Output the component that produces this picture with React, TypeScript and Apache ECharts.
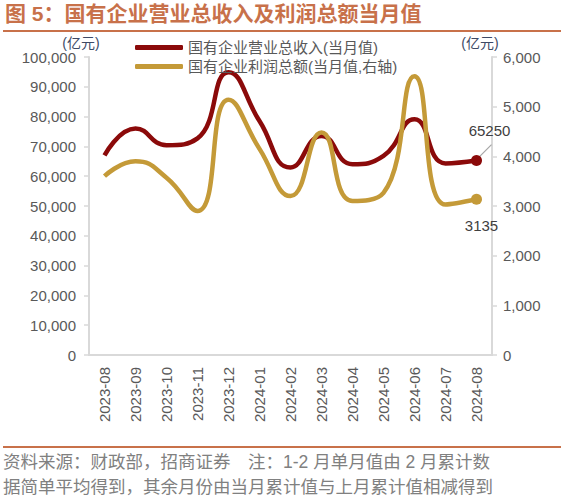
import { useEffect, useRef } from "react";
import * as echarts from "echarts";

const months = [
  "2023-08", "2023-09", "2023-10", "2023-11", "2023-12", "2024-01", "2024-02",
  "2024-03", "2024-04", "2024-05", "2024-06", "2024-07", "2024-08",
];
// 国有企业营业总收入(当月值), 亿元
const revenue = [67000, 76000, 70400, 72700, 94900, 78500, 62900, 73500, 64000, 66800, 79100, 64300, 65250];
// 国有企业利润总额(当月值), 亿元, 右轴
const profit = [3600, 3900, 3570, 2900, 5140, 4150, 3200, 4480, 3100, 3265, 5610, 3030, 3135];

const leftTicks = { min: 0, max: 100000, interval: 10000 };
const rightTicks = { min: 0, max: 6000, interval: 1000 };

const titleText = "图 5：国有企业营业总收入及利润总额当月值";
const noteLines = [
  "资料来源：财政部，招商证券　注：1-2 月单月值由 2 月累计数",
  "据简单平均得到，其余月份由当月累计值与上月累计值相减得到",
];

const FONT = "'Liberation Sans', 'Noto Sans CJK SC', sans-serif";
const RED = "#8b0a0a";
const GOLD = "#c49a38";
const ACCENT = "#c8714a";
const GRAY = "#595959";

export default function App() {
  const chartRef = useRef<HTMLDivElement>(null);

  useEffect(() => {
    if (!chartRef.current) return;
    const chart = echarts.init(chartRef.current, null, { renderer: "svg" });
    const last = months.length - 1;

    const axisCommon = {
      type: "value" as const,
      splitLine: { show: false },
      axisLine: { show: true, lineStyle: { color: "#d9d9d9", width: 2 } },
      axisTick: { show: true, length: 5, lineStyle: { color: "#d9d9d9", width: 1.5 } },
      nameTextStyle: { color: "#3d4a66", fontSize: 14, fontFamily: FONT },
      nameGap: 6,
    };

    const baseGraphic = [
      {
        type: "text",
        left: 5,
        top: 3,
        style: { text: titleText, fill: ACCENT, fontSize: 21, fontWeight: "bold", fontFamily: FONT },
      },
      {
        type: "line",
        shape: { x1: 3, y1: 31, x2: 561, y2: 31 },
        style: { stroke: ACCENT, lineWidth: 2 },
      },
      {
        type: "line",
        shape: { x1: 3, y1: 447, x2: 561, y2: 447 },
        style: { stroke: ACCENT, lineWidth: 2 },
      },
      {
        type: "text",
        left: 3,
        top: 453,
        style: { text: noteLines[0], fill: "#808080", fontSize: 17.5, fontFamily: FONT },
      },
      {
        type: "text",
        left: 3,
        top: 478,
        style: { text: noteLines[1], fill: "#808080", fontSize: 17.5, fontFamily: FONT },
      },
    ];

    chart.setOption({
      animation: false,
      textStyle: { fontFamily: FONT },
      graphic: baseGraphic,
      legend: {
        orient: "vertical",
        left: 130,
        top: 35,
        itemWidth: 48,
        itemHeight: 5,
        itemGap: 4,
        icon: "roundRect",
        textStyle: { color: GRAY, fontSize: 15, fontFamily: FONT },
        data: ["国有企业营业总收入(当月值)", "国有企业利润总额(当月值,右轴)"],
      },
      grid: { left: 89, right: 72, top: 57, bottom: 146 },
      xAxis: {
        type: "category",
        data: months,
        boundaryGap: true,
        axisLine: { lineStyle: { color: "#d9d9d9", width: 2 } },
        axisTick: { show: false },
        axisLabel: { rotate: 90, color: GRAY, fontSize: 15, margin: 12, fontFamily: FONT },
      },
      yAxis: [
        {
          ...axisCommon,
          ...leftTicks,
          name: "(亿元)",
          nameTextStyle: { ...axisCommon.nameTextStyle, align: "center", padding: [0, 16, 0, 0] },
          axisLabel: {
            color: GRAY,
            fontSize: 15,
            margin: 13,
            fontFamily: FONT,
            formatter: (v: number) => v.toLocaleString("en-US"),
          },
        },
        {
          ...axisCommon,
          ...rightTicks,
          position: "right",
          name: "(亿元)",
          nameTextStyle: { ...axisCommon.nameTextStyle, align: "center", padding: [0, 24, 0, 0] },
          axisLabel: {
            color: GRAY,
            fontSize: 15,
            margin: 11,
            fontFamily: FONT,
            formatter: (v: number) => v.toLocaleString("en-US"),
          },
        },
      ],
      series: [
        {
          name: "国有企业营业总收入(当月值)",
          type: "line",
          yAxisIndex: 0,
          smooth: true,
          symbol: "circle",
          symbolSize: (_v: unknown, p: { dataIndex: number }) => (p.dataIndex === last ? 11 : 0),
          lineStyle: { color: RED, width: 4.5 },
          itemStyle: { color: RED },
          data: revenue.map((v, i) =>
            i === last
              ? {
                  value: v,
                  label: { show: true, position: "top", offset: [13, -12], color: "#404040", fontSize: 15 },
                }
              : v
          ),
        },
        {
          name: "国有企业利润总额(当月值,右轴)",
          type: "line",
          yAxisIndex: 1,
          smooth: true,
          symbol: "circle",
          symbolSize: (_v: unknown, p: { dataIndex: number }) => (p.dataIndex === last ? 11 : 0),
          lineStyle: { color: GOLD, width: 4.5 },
          itemStyle: { color: GOLD },
          data: profit.map((v, i) =>
            i === last
              ? {
                  value: v,
                  label: { show: true, position: "bottom", offset: [5, 8], color: "#404040", fontSize: 15 },
                }
              : v
          ),
        },
      ],
    });

    // leader line from the last revenue point to its label, placed through the axis scales
    const pt = chart.convertToPixel({ seriesIndex: 0 }, [last, revenue[last]]) as number[];
    chart.setOption({
      graphic: [
        ...baseGraphic,
        {
          type: "line",
          z: 1,
          shape: { x1: pt[0] + 2, y1: pt[1] - 3, x2: pt[0] + 15, y2: pt[1] - 16 },
          style: { stroke: "#a6a6a6", lineWidth: 1.2 },
        },
      ],
    });

    return () => chart.dispose();
  }, []);

  return (
    <div
      ref={chartRef}
      style={{ position: "fixed", left: 0, top: 0, width: 564, height: 501, background: "#fff" }}
    />
  );
}
